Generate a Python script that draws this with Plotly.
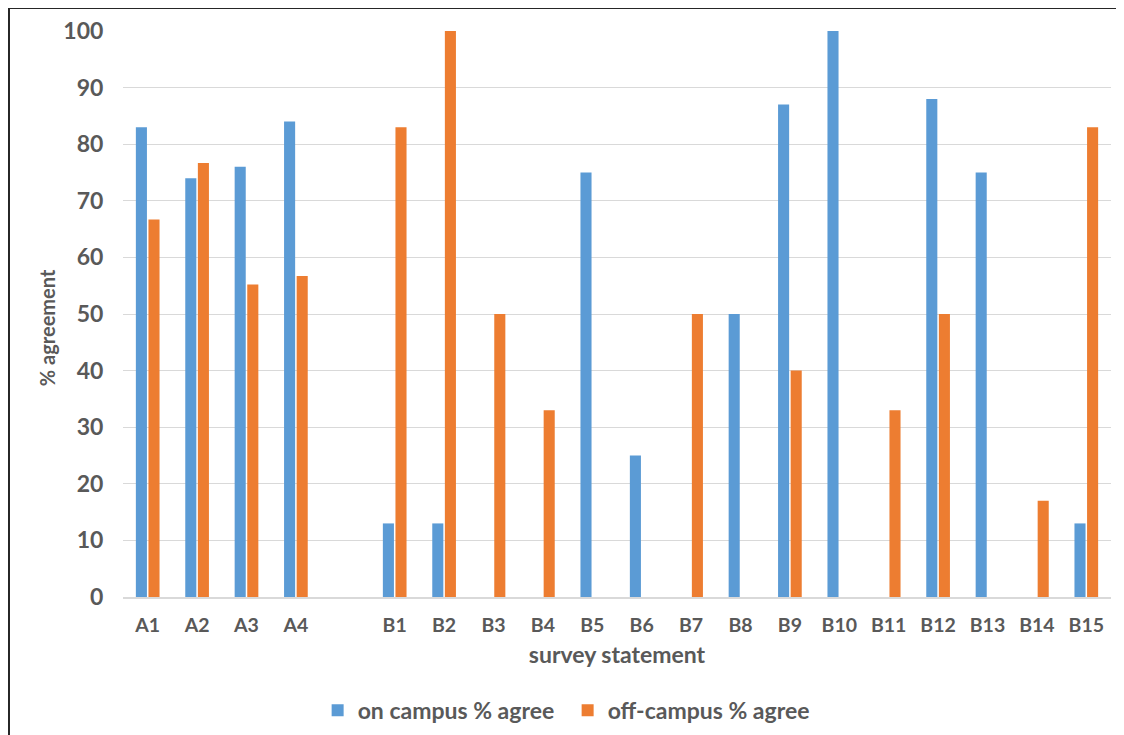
import plotly.graph_objects as go

categories = ["A1", "A2", "A3", "A4", " ", "B1", "B2", "B3", "B4", "B5", "B6", "B7",
              "B8", "B9", "B10", "B11", "B12", "B13", "B14", "B15"]
on_campus = [83, 74, 76, 84, None, 13, 13, 0, 0, 75, 25, 0, 50, 87, 100, 0, 88, 75, 0, 13]
off_campus = [66.7, 76.7, 55.2, 56.7, None, 83, 100, 50, 33, 0, 0, 50, 0, 40, 0, 33, 50, 0, 17, 83]
y_ticks = [0, 10, 20, 30, 40, 50, 60, 70, 80, 90, 100]

BLUE = "#5B9BD5"
ORANGE = "#ED7D31"
TXT = "#595959"
FONT = "Lato"

fig = go.Figure()
fig.add_trace(go.Bar(x=categories, y=on_campus, name="on campus % agree",
                     marker=dict(color=BLUE, line=dict(width=0))))
fig.add_trace(go.Bar(x=categories, y=off_campus, name="off-campus % agree",
                     marker=dict(color=ORANGE, line=dict(width=0))))

fig.update_layout(
    width=1124, height=735,
    margin=dict(l=115, r=21, t=23, b=146, autoexpand=False),
    paper_bgcolor="white", plot_bgcolor="white",
    barmode="group", bargap=0.49, bargroupgap=0.12,
    font=dict(family=FONT, color=TXT),
    showlegend=True,
    legend=dict(orientation="h", x=0.197, xanchor="left", y=-0.2, yanchor="middle",
                font=dict(family=FONT, size=23, color=TXT, weight="bold"),
                itemwidth=30, traceorder="normal",
                entrywidth=205, entrywidthmode="pixels"),
    xaxis=dict(
        type="category", categoryorder="array", categoryarray=categories,
        automargin=False,
        showgrid=False, showline=True, linecolor="#D9D9D9", linewidth=1.5,
        ticks="outside", ticklen=10, tickcolor="rgba(0,0,0,0)",
        tickfont=dict(family=FONT, size=19.5, color=TXT, weight="bold"),
        title=dict(text="survey statement", standoff=12,
                   font=dict(family=FONT, size=23, color=TXT, weight="bold")),
    ),
    yaxis=dict(
        range=[0, 100], tickvals=y_ticks, showgrid=True, gridcolor="#D9D9D9", gridwidth=1,
        automargin=False,
        zeroline=False, showline=False,
        ticks="outside", ticklen=14, tickcolor="rgba(0,0,0,0)",
        tickfont=dict(family=FONT, size=23, color=TXT, weight="bold"),
    ),
    annotations=[dict(text="% agreement", xref="paper", yref="paper",
                      x=-0.0769, y=0.475, xanchor="center", yanchor="middle",
                      textangle=-90, showarrow=False,
                      font=dict(family=FONT, size=20, color=TXT, weight="bold"))],
)

fig.add_shape(type="rect", xref="paper", yref="paper",
              x0=-0.1154, x1=1.2, y0=-0.5, y1=1.0406,
              line=dict(color="#262626", width=2), fillcolor="rgba(0,0,0,0)", layer="below")

fig.write_html("out.html")
